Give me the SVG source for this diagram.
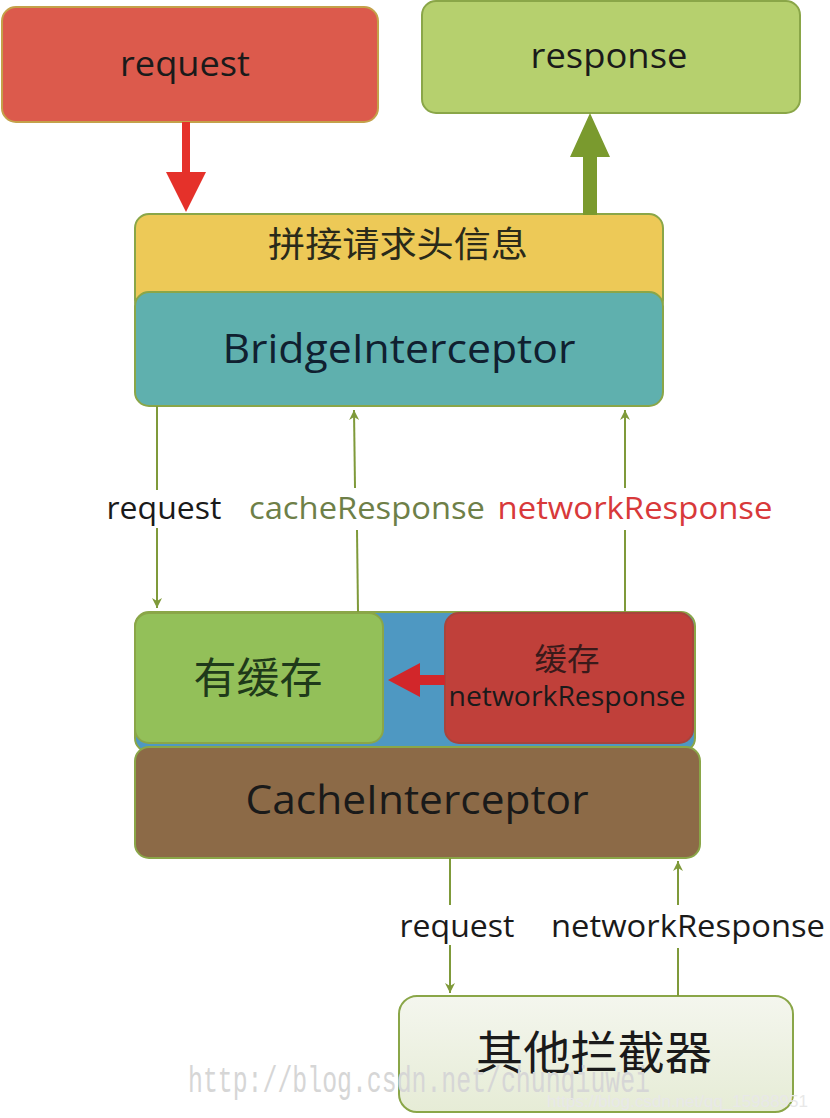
<svg xmlns="http://www.w3.org/2000/svg" width="830" height="1118" viewBox="0 0 830 1118">
<defs>
<style>
.t{font-family:"Open Sans","Noto Sans","Noto Sans CJK SC",sans-serif;text-anchor:middle}
.c{font-family:"Noto Sans CJK SC",sans-serif;text-anchor:middle}
.box{stroke:#8aa648;stroke-width:2}
.ln{stroke:#7f9a3a;stroke-width:2;fill:none}
</style>
<marker id="ah" markerWidth="12" markerHeight="12" refX="10" refY="6" orient="auto" markerUnits="userSpaceOnUse">
<path d="M0,1 L10,6 L0,11 L3,6 Z" fill="#7f9a3a"/>
</marker>
<linearGradient id="gOther" x1="0" y1="0" x2="0" y2="1"><stop offset="0" stop-color="#f4f6ee"/><stop offset="1" stop-color="#e6ecd6"/></linearGradient>
</defs>

<g id="request-node">
<rect x="2" y="7" width="376" height="115" rx="14" fill="#dc5a4c" stroke="#c4a14a" stroke-width="2"/>
<text class="t" x="185" y="76" font-size="35" fill="#1a1a1a" textLength="130" lengthAdjust="spacingAndGlyphs">request</text>
</g>
<g id="response-node">
<rect x="422" y="1" width="378" height="112" rx="14" fill="#b6d06e" class="box"/>
<text class="t" x="609" y="68" font-size="35" fill="#1a1a1a" textLength="157" lengthAdjust="spacingAndGlyphs">response</text>
</g>

<g id="bridge-node">
<rect x="135" y="214" width="528" height="100" rx="14" fill="#edc957" class="box"/>
<rect x="135" y="292" width="528" height="114" rx="14" fill="#5fb0ae" class="box"/>
<text class="c" x="398" y="257" font-size="35" fill="#2a2a1a" textLength="260" lengthAdjust="spacingAndGlyphs">拼接请求头信息</text>
<text class="t" x="399" y="363" font-size="40" fill="#102030" textLength="353" lengthAdjust="spacingAndGlyphs">BridgeInterceptor</text>
</g>

<g id="cache-node">
<rect x="135" y="612" width="560" height="140" rx="14" fill="#4e98c2" class="box"/>
<rect x="135" y="747" width="565" height="111" rx="14" fill="#8c6a47" class="box"/>
<text class="t" x="417" y="814" font-size="40" fill="#1a1a1a" textLength="343" lengthAdjust="spacingAndGlyphs">CacheInterceptor</text>
</g>
<g id="has-cache-node">
<rect x="135" y="613" width="248" height="130" rx="14" fill="#93c059" class="box"/>
<text class="c" x="258" y="693" font-size="42" fill="#1f3a1a" textLength="129" lengthAdjust="spacingAndGlyphs">有缓存</text>
</g>
<g id="cache-network-node">
<rect x="445" y="613" width="248" height="130" rx="14" fill="#c0403a" stroke="#a8443c" stroke-width="2"/>
<text class="c" x="567" y="670" font-size="31" fill="#3a1a1a" textLength="65" lengthAdjust="spacingAndGlyphs">缓存</text>
<text class="t" x="567" y="706" font-size="27" fill="#1a1a1a" textLength="237" lengthAdjust="spacingAndGlyphs">networkResponse</text>
</g>

<g id="other-node">
<rect x="399" y="996" width="394" height="116" rx="18" fill="url(#gOther)" class="box"/>
<text class="c" x="594" y="1069" font-size="46" fill="#1a1a1a" textLength="236" lengthAdjust="spacingAndGlyphs">其他拦截器</text>
</g>

<g id="connectors">
<path d="M182,122 L190,122 L190,172 L206,172 L186,212 L166,172 L182,172 Z" fill="#e5312a"/>
<path d="M583,215 L597,215 L597,157 L610,157 L590,113 L570,157 L583,157 Z" fill="#7a9a2e"/>
<line class="ln" x1="157" y1="406" x2="157" y2="490"/>
<line class="ln" x1="157" y1="528" x2="157" y2="608" marker-end="url(#ah)"/>
<line class="ln" x1="358" y1="612" x2="357" y2="530"/>
<line class="ln" x1="355" y1="488" x2="354" y2="410" marker-end="url(#ah)"/>
<line class="ln" x1="625" y1="612" x2="625" y2="530"/>
<line class="ln" x1="625" y1="488" x2="625" y2="410" marker-end="url(#ah)"/>
<path d="M445,675 L420,675 L420,663 L388,680 L420,697 L420,685 L445,685 Z" fill="#d2262a"/>
<line class="ln" x1="450" y1="858" x2="450" y2="905"/>
<line class="ln" x1="450" y1="945" x2="450" y2="993" marker-end="url(#ah)"/>
<line class="ln" x1="678" y1="996" x2="678" y2="948"/>
<line class="ln" x1="678" y1="905" x2="678" y2="861" marker-end="url(#ah)"/>
<text class="t" x="164" y="519" font-size="31" fill="#1a1a1a" textLength="115" lengthAdjust="spacingAndGlyphs">request</text>
<text class="t" x="367" y="519" font-size="31" fill="#6e7f48" textLength="236" lengthAdjust="spacingAndGlyphs">cacheResponse</text>
<text class="t" x="635" y="519" font-size="31" fill="#d8393a" textLength="275" lengthAdjust="spacingAndGlyphs">networkResponse</text>
<text class="t" x="457" y="937" font-size="31" fill="#1a1a1a" textLength="115" lengthAdjust="spacingAndGlyphs">request</text>
<text class="t" x="688" y="937" font-size="31" fill="#1a1a1a" textLength="274" lengthAdjust="spacingAndGlyphs">networkResponse</text>
</g>

<text x="188" y="1092" font-family="'Liberation Mono',monospace" font-size="36" fill="#d6d6d6" textLength="462" lengthAdjust="spacingAndGlyphs">http://blog.csdn.net/chunqiuwei</text>
<text x="808" y="1107" font-family="'Liberation Sans',sans-serif" font-size="17" fill="#e8e8e8" text-anchor="end">https://blog.csdn.net/qq_15988951</text>
</svg>
